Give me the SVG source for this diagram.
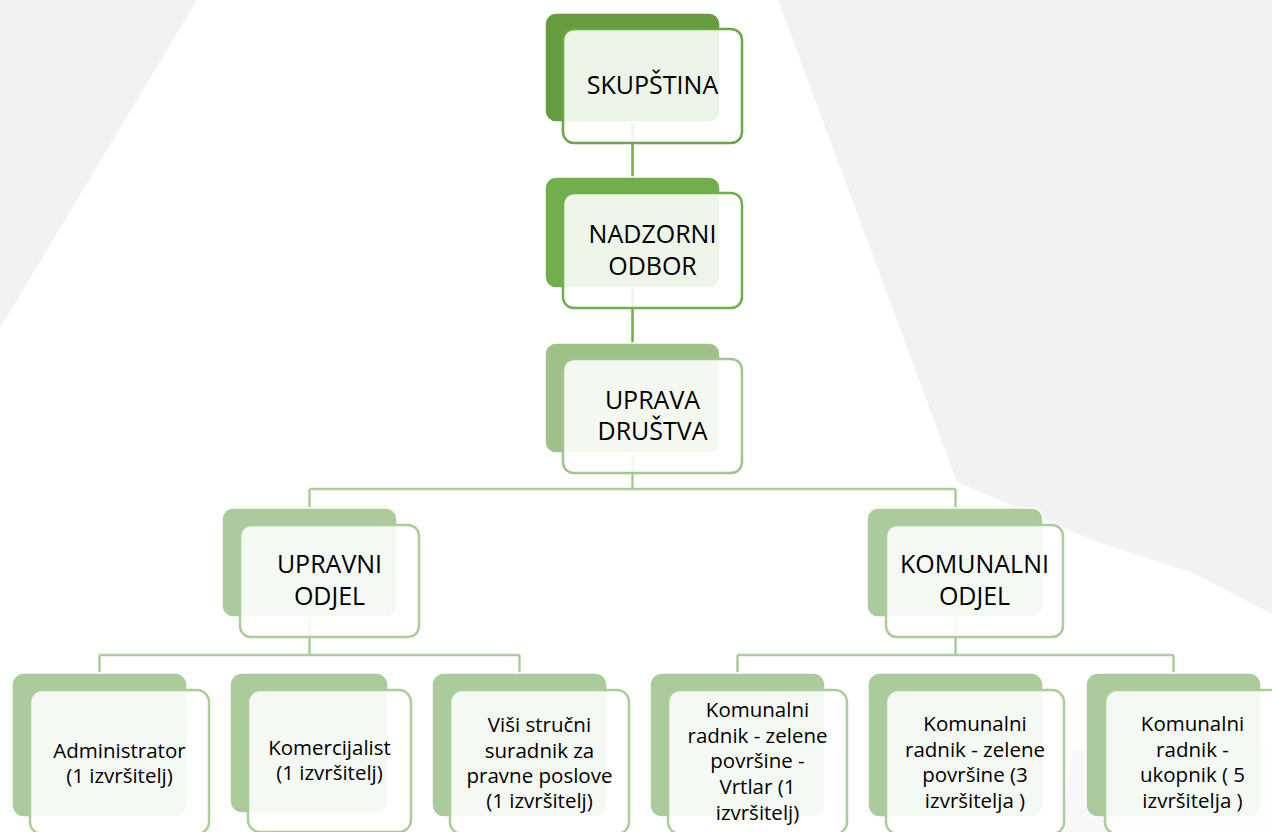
<svg xmlns="http://www.w3.org/2000/svg" width="1272" height="832" viewBox="0 0 1272 832">
<style>
.bg{fill:#f2f2f2}
.back{stroke:#ffffff;stroke-width:1.5}
.b1{fill:#669b3e}
.b2{fill:#72ae4b}
.b3{fill:#9dc186}
.b4{fill:#abcb9d}
.front{fill:#ffffff;fill-opacity:0.88;stroke-width:2.5}
.f1{stroke:#6aa843}
.f2{stroke:#72ae4b}
.f3{stroke:#a2c58f}
.f4{stroke:#abcd99}
.conn{fill:none;stroke-width:2.5}
.c1{stroke:#70ad47}
.c2{stroke:#abcd99}
text{font-family:"Open Sans","Liberation Sans",sans-serif;fill:#000;text-anchor:middle}
.big{font-size:25px}
.small{font-size:20.5px}
</style>
<rect width="1272" height="832" fill="#ffffff"/>
<g id="background">
<polygon class="bg" points="0,0 197,0 0,328"/>
<polygon class="bg" points="778,0 1272,0 1272,614 1193,573 1093,540 957,482"/>
<polygon points="1073,750 1272,745 1272,832 1060,832" fill="#f7f7f7"/>
</g>
<g id="connectors">
<path class="conn c1" d="M632.5 122V177M632.5 288V343"/>
<path class="conn c2" d="M632.5 453V489M309.5 489H955.5M309.5 489V508M955.5 489V508"/>
<path class="conn c2" d="M309.5 617V655M99.5 655H519.5M99.5 655V673M519.5 655V673"/>
<path class="conn c2" d="M955.5 617V655M737.5 655H1173.5M737.5 655V673M1173.5 655V673"/>
</g>
<g id="node-skupstina">
<rect class="back b1" x="545" y="13" width="175" height="109" rx="11"/>
<rect class="front f1" x="563" y="29" width="179" height="114" rx="11"/>
<text class="big" x="652.5" y="94">SKUPŠTINA</text>
</g>
<g id="node-nadzorni">
<rect class="back b2" x="545" y="177" width="175" height="111" rx="11"/>
<rect class="front f2" x="563" y="193" width="179" height="115" rx="11"/>
<text class="big" x="652.5" y="243">NADZORNI</text>
<text class="big" x="652.5" y="275">ODBOR</text>
</g>
<g id="node-uprava">
<rect class="back b3" x="545" y="343" width="175" height="110" rx="11"/>
<rect class="front f3" x="563" y="359" width="179" height="114" rx="11"/>
<text class="big" x="652.5" y="409">UPRAVA</text>
<text class="big" x="652.5" y="440">DRUŠTVA</text>
</g>
<g id="node-upravni">
<rect class="back b4" x="222" y="508" width="175" height="109" rx="11"/>
<rect class="front f4" x="240" y="525" width="179" height="112" rx="11"/>
<text class="big" x="329.5" y="573">UPRAVNI</text>
<text class="big" x="329.5" y="605">ODJEL</text>
</g>
<g id="node-komunalni">
<rect class="back b4" x="867" y="508" width="176" height="109" rx="11"/>
<rect class="front f4" x="886" y="525" width="177" height="112" rx="11"/>
<text class="big" x="974.5" y="573">KOMUNALNI</text>
<text class="big" x="974.5" y="605">ODJEL</text>
</g>
<g id="node-administrator">
<rect class="back b4" x="12" y="673" width="175" height="144" rx="12"/>
<rect class="front f4" x="30" y="690" width="179" height="144" rx="12"/>
<text class="small" x="119.5" y="758">Administrator</text>
<text class="small" x="119.5" y="783">(1 izvršitelj)</text>
</g>
<g id="node-komercijalist">
<rect class="back b4" x="230" y="673" width="158" height="140" rx="12"/>
<rect class="front f4" x="248" y="690" width="163" height="142" rx="12"/>
<text class="small" x="329.5" y="755">Komercijalist</text>
<text class="small" x="329.5" y="780">(1 izvršitelj)</text>
</g>
<g id="node-visi">
<rect class="back b4" x="432" y="673" width="175" height="144" rx="12"/>
<rect class="front f4" x="450" y="690" width="179" height="144" rx="12"/>
<text class="small" x="539.5" y="732">Viši stručni</text>
<text class="small" x="539.5" y="758">suradnik za</text>
<text class="small" x="539.5" y="783">pravne poslove</text>
<text class="small" x="539.5" y="808">(1 izvršitelj)</text>
</g>
<g id="node-kom1">
<rect class="back b4" x="650" y="673" width="175" height="144" rx="12"/>
<rect class="front f4" x="668" y="690" width="179" height="144" rx="12"/>
<text class="small" x="757.5" y="717">Komunalni</text>
<text class="small" x="757.5" y="743">radnik - zelene</text>
<text class="small" x="757.5" y="768">površine -</text>
<text class="small" x="757.5" y="794">Vrtlar (1</text>
<text class="small" x="757.5" y="820">izvršitelj)</text>
</g>
<g id="node-kom3">
<rect class="back b4" x="868" y="673" width="175" height="144" rx="12"/>
<rect class="front f4" x="886" y="690" width="178" height="144" rx="12"/>
<text class="small" x="975" y="731">Komunalni</text>
<text class="small" x="975" y="757">radnik - zelene</text>
<text class="small" x="975" y="782">površine (3</text>
<text class="small" x="975" y="808">izvršitelja )</text>
</g>
<g id="node-kom5">
<rect class="back b4" x="1086" y="673" width="175" height="144" rx="12"/>
<rect class="front f4" x="1105" y="690" width="179" height="144" rx="12"/>
<text class="small" x="1192.5" y="731">Komunalni</text>
<text class="small" x="1192.5" y="757">radnik -</text>
<text class="small" x="1192.5" y="782">ukopnik ( 5</text>
<text class="small" x="1192.5" y="808">izvršitelja )</text>
</g>
</svg>
